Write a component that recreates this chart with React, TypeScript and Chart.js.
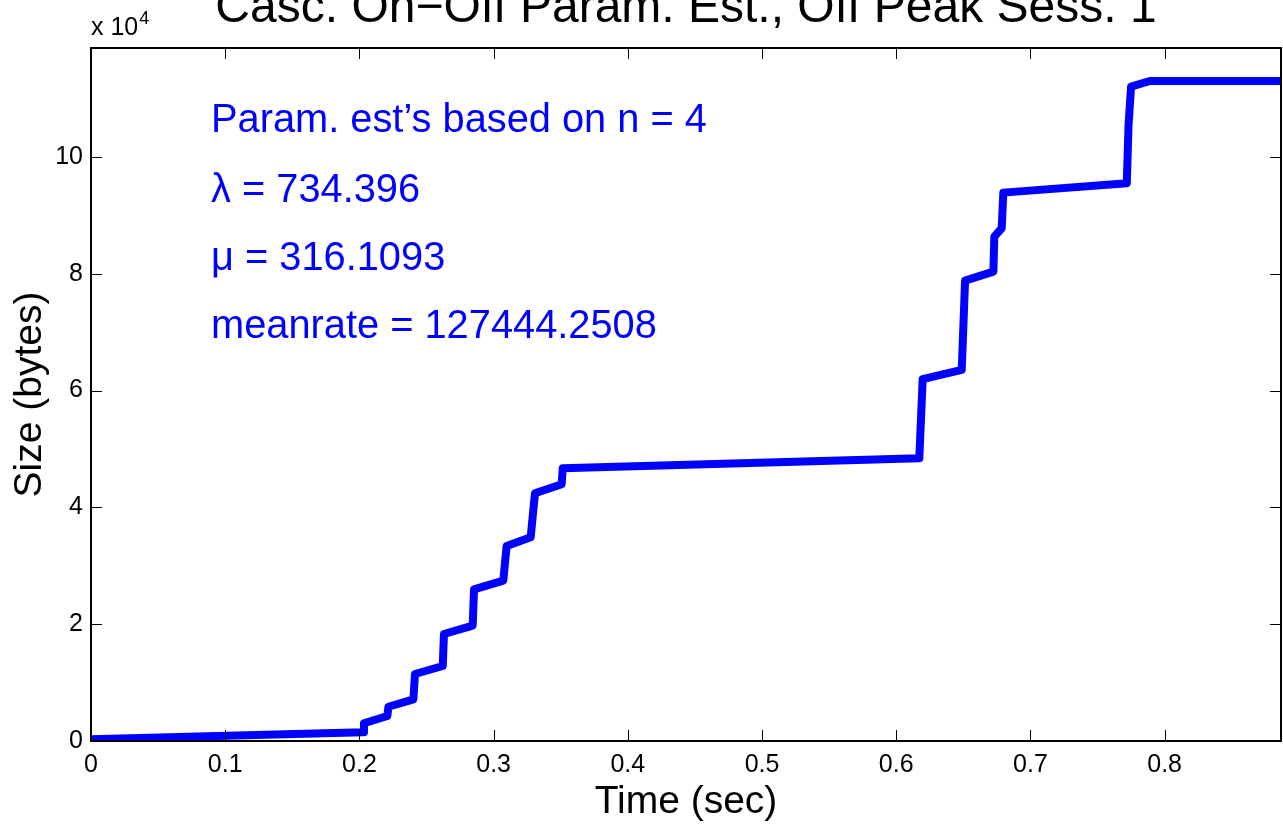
import React, { useEffect, useRef } from "react";
import { Chart, registerables } from "chart.js";

Chart.register(...registerables);

// ---- data ----
const timeSec = [
  0, 0.2027, 0.2034, 0.2208, 0.2216, 0.2402, 0.2414, 0.2621, 0.263, 0.2844,
  0.2854, 0.3072, 0.3097, 0.3276, 0.3308, 0.3507, 0.3515, 0.6172, 0.6197,
  0.6488, 0.6513, 0.6724, 0.6731, 0.6786, 0.6798, 0.7718, 0.7731, 0.775,
  0.789, 0.8867,
];
const sizeBytes = [
  300, 1500, 3030, 4280, 5870, 7140, 11470, 12840, 18320, 19740, 25970, 27450,
  33390, 34880, 42410, 43960, 46700, 48410, 61940, 63530, 78820, 80360, 86350,
  87790, 93890, 95500, 105480, 112040, 113000, 113000,
];
const xMax = 0.8867;
const yMax = 118650;
const xTickValues = [0, 0.1, 0.2, 0.3, 0.4, 0.5, 0.6, 0.7, 0.8];
const yTickValues = [0, 20000, 40000, 60000, 80000, 100000];
const yExponent = 4;

const titleText = "Casc. On\u2212Off Param. Est., Off Peak Sess. 1";
const xLabel = "Time (sec)";
const yLabel = "Size (bytes)";
const annotationLines = [
  "Param. est\u2019s based on n = 4",
  "\u03bb = 734.396",
  "\u03bc = 316.1093",
  "meanrate = 127444.2508",
];

const FONT = "'Liberation Sans', Arial, Helvetica, sans-serif";
const BLUE = "#0000ff";

const decorPlugin = {
  id: "decor",
  afterDraw(chart: any) {
    const { ctx, chartArea: a, scales } = chart;
    ctx.save();
    // inward ticks on all four sides
    ctx.strokeStyle = "#000";
    ctx.lineWidth = 1;
    const tl = 11;
    const seg = (x1: number, y1: number, x2: number, y2: number) => {
      ctx.beginPath();
      ctx.moveTo(x1, y1);
      ctx.lineTo(x2, y2);
      ctx.stroke();
    };
    scales.x.ticks.forEach((t: any) => {
      const px = Math.round(scales.x.getPixelForValue(t.value)) + 0.5;
      seg(px, a.bottom, px, a.bottom - tl);
      seg(px, a.top, px, a.top + tl);
    });
    scales.y.ticks.forEach((t: any) => {
      const py = Math.round(scales.y.getPixelForValue(t.value)) + 0.5;
      seg(a.left, py, a.left + tl, py);
      seg(a.right, py, a.right - tl, py);
    });
    // box
    ctx.lineWidth = 2;
    ctx.strokeRect(a.left, a.top, a.right - a.left, a.bottom - a.top);

    // title
    ctx.fillStyle = "#000";
    ctx.textAlign = "center";
    ctx.textBaseline = "alphabetic";
    ctx.font = `48px ${FONT}`;
    ctx.fillText(titleText, (a.left + a.right) / 2, 22);

    // exponent label
    ctx.textAlign = "left";
    ctx.font = `25px ${FONT}`;
    ctx.fillText("x 10", a.left, 35);
    const w = ctx.measureText("x 10").width;
    ctx.font = `18px ${FONT}`;
    ctx.fillText(String(yExponent), a.left + w + 1, 24);

    // annotations
    ctx.fillStyle = BLUE;
    ctx.font = `39.8px ${FONT}`;
    const baselines = [84, 154, 222, 290];
    annotationLines.forEach((s, i) => {
      ctx.fillText(s, a.left + 120, a.top + baselines[i]);
    });
    ctx.restore();
  },
};

const setTicks = (values: number[]) => (s: any) => {
  s.ticks = values.map((v) => ({ value: v }));
};

export default function App() {
  const ref = useRef<HTMLCanvasElement | null>(null);
  useEffect(() => {
    if (!ref.current) return;
    const points = timeSec.map((t, i) => ({ x: t, y: sizeBytes[i] }));
    const chart = new Chart(ref.current, {
      type: "line",
      data: {
        datasets: [
          {
            data: points,
            borderColor: BLUE,
            backgroundColor: BLUE,
            borderWidth: 8,
            pointRadius: 0,
            tension: 0,
            fill: false,
            borderJoinStyle: "round",
            borderCapStyle: "butt",
          },
        ],
      },
      options: {
        animation: false,
        responsive: false,
        devicePixelRatio: 1,
        layout: { padding: { top: 48, right: 2, left: 0, bottom: 0 } },
        plugins: {
          legend: { display: false },
          title: { display: false },
          tooltip: { enabled: false },
        },
        scales: {
          x: {
            type: "linear",
            min: 0,
            max: xMax,
            grid: { display: false, drawTicks: false },
            border: { display: false },
            afterBuildTicks: setTicks(xTickValues),
            afterFit: (s: any) => {
              s.height = 88;
            },
            ticks: {
              maxRotation: 0,
              autoSkip: false,
              padding: 12,
              color: "#000",
              font: { family: FONT, size: 25, lineHeight: 1 },
              callback: (v: any) => String(Number(Number(v).toFixed(1))),
            },
            title: {
              display: true,
              text: xLabel,
              color: "#000",
              font: { family: FONT, size: 39, lineHeight: 1 },
              padding: { top: 0, bottom: 7 },
            },
          },
          y: {
            type: "linear",
            min: 0,
            max: yMax,
            grid: { display: false, drawTicks: false },
            border: { display: false },
            afterBuildTicks: setTicks(yTickValues),
            afterFit: (s: any) => {
              s.width = 91;
            },
            ticks: {
              autoSkip: false,
              padding: 8,
              color: "#000",
              font: { family: FONT, size: 25, lineHeight: 1 },
              callback: (v: any) => String(Math.round(Number(v) / Math.pow(10, yExponent))),
            },
            title: {
              display: true,
              text: yLabel,
              color: "#000",
              font: { family: FONT, size: 39, lineHeight: 1 },
              padding: { top: 11, bottom: 0 },
            },
          },
        },
      },
      plugins: [decorPlugin],
    });
    return () => chart.destroy();
  }, []);
  return (
    <div style={{ position: "absolute", left: 0, top: 0, width: 1283, height: 829, background: "#fff" }}>
      <canvas ref={ref} width={1283} height={829} />
    </div>
  );
}
